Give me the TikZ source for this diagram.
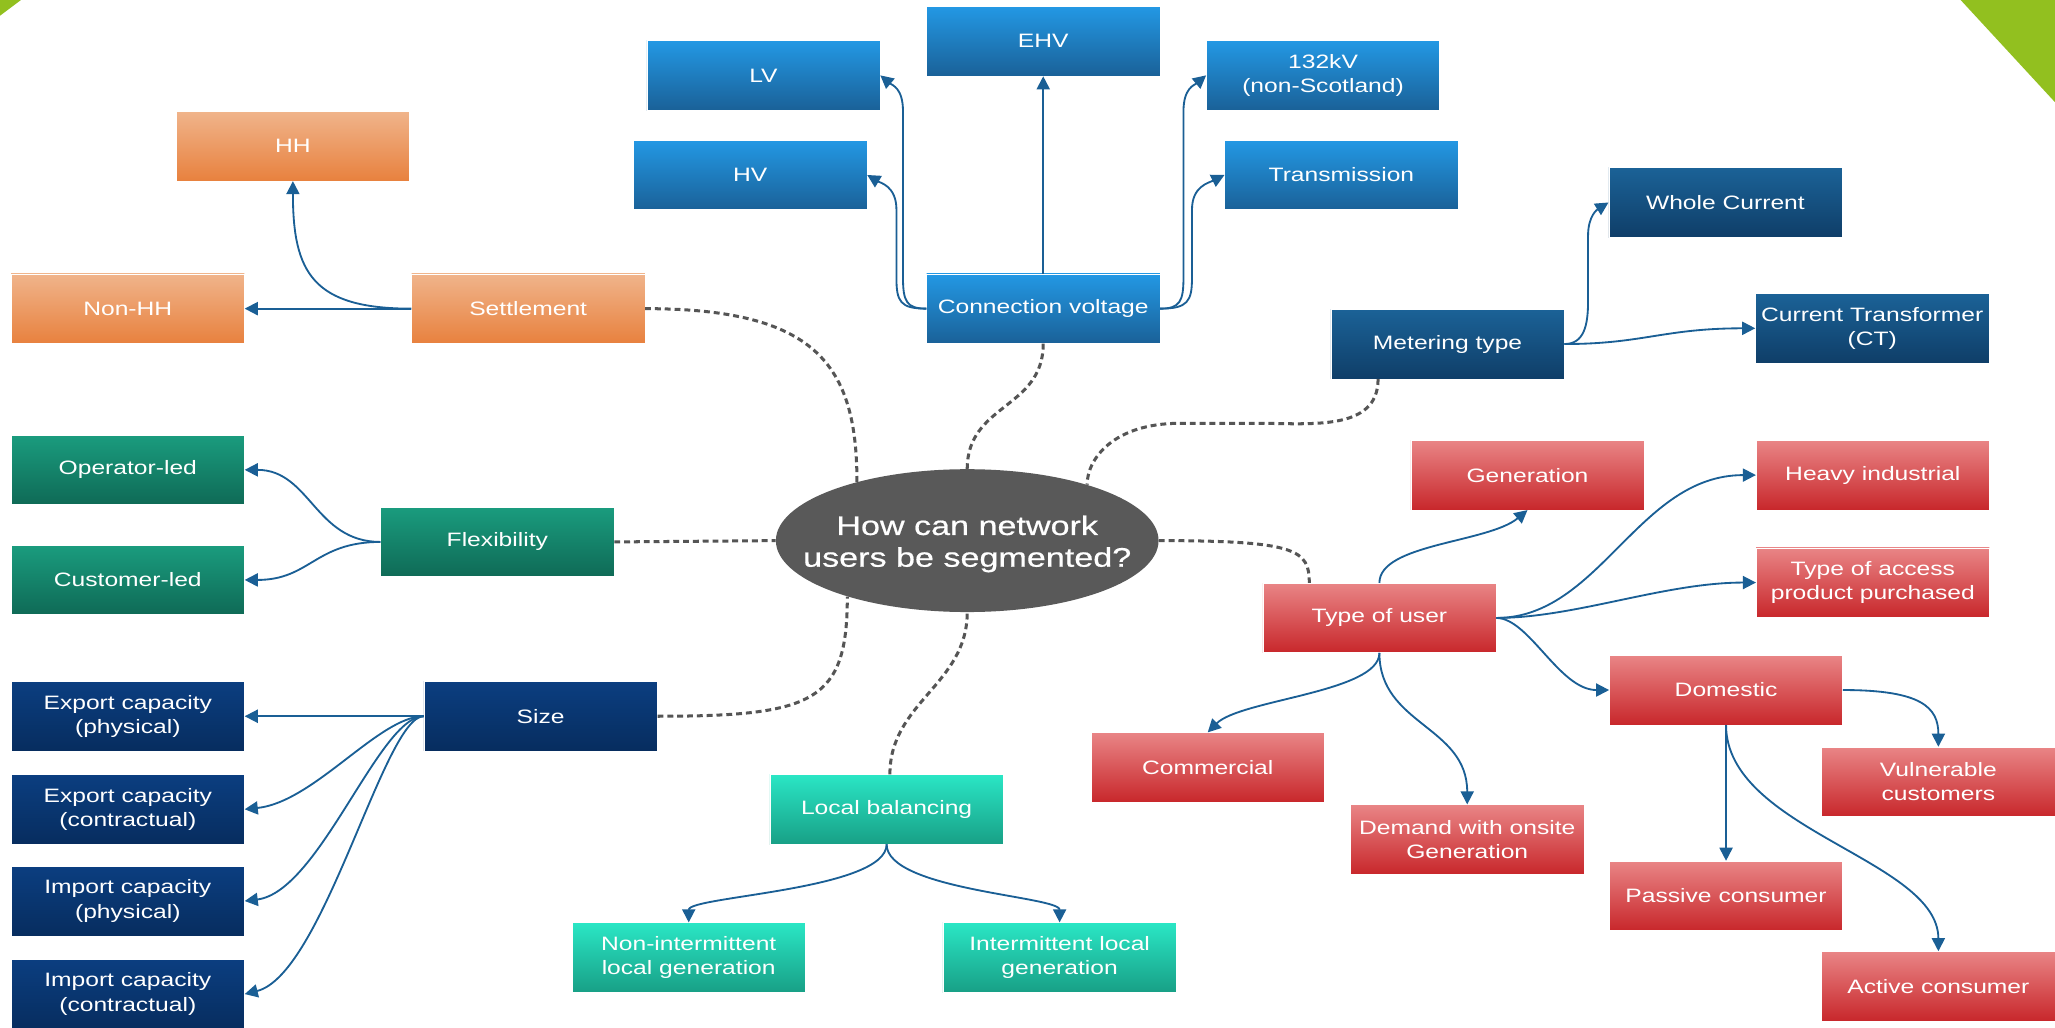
\documentclass[tikz,border=0pt]{standalone}
\usepackage{fontspec}
\setmainfont{Liberation Sans}[FakeStretch=1.27]
\usetikzlibrary{arrows.meta,shapes.geometric,calc}
\definecolor{orT}{HTML}{F0B48B}\definecolor{orB}{HTML}{E8813E}
\definecolor{lbT}{HTML}{2398E4}\definecolor{lbB}{HTML}{1A6198}
\definecolor{dbT}{HTML}{1B6297}\definecolor{dbB}{HTML}{0F3E68}
\definecolor{gnT}{HTML}{1A9C7E}\definecolor{gnB}{HTML}{0F6A56}
\definecolor{nvT}{HTML}{0B3E80}\definecolor{nvB}{HTML}{072D5F}
\definecolor{tqT}{HTML}{2AE6C5}\definecolor{tqB}{HTML}{18A086}
\definecolor{rdT}{HTML}{E98586}\definecolor{rdB}{HTML}{C8272B}
\definecolor{hubc}{HTML}{595959}
\definecolor{arrc}{HTML}{1A5F95}
\definecolor{dashc}{HTML}{555555}
\definecolor{leaf}{HTML}{92C01F}
\tikzset{
  box/.style={rectangle, minimum width=178pt, minimum height=53pt, inner sep=0pt,
    text=white, align=center, font=\fontsize{14.8}{18.5}\selectfont, draw=white, line width=0.4pt},
  orbox/.style={box, top color=orT, bottom color=orB},
  lbbox/.style={box, top color=lbT, bottom color=lbB},
  dbbox/.style={box, top color=dbT, bottom color=dbB},
  gnbox/.style={box, top color=gnT, bottom color=gnB},
  nvbox/.style={box, top color=nvT, bottom color=nvB},
  tqbox/.style={box, top color=tqT, bottom color=tqB},
  rdbox/.style={box, top color=rdT, bottom color=rdB},
  link/.style={draw=arrc, line width=1.4pt, -{Triangle[length=10pt,width=10pt]}},
  dlink/.style={draw=dashc, line width=2.3pt, dash pattern=on 4.5pt off 3pt},
  hubtext/.style={text=white, align=center, inner sep=0pt, yshift=-2.5pt,
    font=\fontsize{20.5}{24.2}\selectfont\addfontfeatures{FakeBold=0.6}},
}
\begin{document}
\begin{tikzpicture}[x=1pt,y=-1pt]
\useasboundingbox (0,0) rectangle (1568,784);
\fill[white] (0,0) rectangle (1568,784);
% corner triangles
\fill[leaf] (0,0) -- (16,0) -- (0,12) -- cycle;
\fill[leaf] (1496,0) -- (1568,0) -- (1568,78) -- cycle;

% hub
\node[ellipse, fill=hubc, minimum width=292pt, minimum height=109pt, inner sep=0pt,
  label={[hubtext]center:How can network\\users be segmented?}] (hub) at (738,412.5) {};

% settlement
\node[orbox] (hh) at (223.5,111.5) {HH};
\node[orbox] (nonhh) at (97.5,235.5) {Non-HH};
\node[orbox] (settle) at (403,235.5) {Settlement};
% connection voltage
\node[lbbox] (lv) at (582.5,57.5) {LV};
\node[lbbox] (hv) at (572.5,133.5) {HV};
\node[lbbox] (ehv) at (796,31.5) {EHV};
\node[lbbox] (kv) at (1009.5,57.5) {132kV\\(non-Scotland)};
\node[lbbox] (trans) at (1023.5,133.5) {Transmission};
\node[lbbox] (cv) at (796,235.5) {Connection voltage};
% metering
\node[dbbox] (meter) at (1104.5,262.5) {Metering type};
\node[dbbox] (whole) at (1316.5,154.5) {Whole Current};
\node[dbbox] (ct) at (1428.5,250.5) {Current Transformer\\(CT)};
% flexibility
\node[gnbox] (oper) at (97.5,358.5) {Operator-led};
\node[gnbox] (cust) at (97.5,442.5) {Customer-led};
\node[gnbox] (flex) at (379.5,413.5) {Flexibility};
% size
\node[nvbox] (size) at (412.5,546.5) {Size};
\node[nvbox] (expp) at (97.5,546.5) {Export capacity\\(physical)};
\node[nvbox] (expc) at (97.5,617.5) {Export capacity\\(contractual)};
\node[nvbox] (impp) at (97.5,687.5) {Import capacity\\(physical)};
\node[nvbox] (impc) at (97.5,758.5) {Import capacity\\(contractual)};
% local balancing
\node[tqbox] (lb) at (676.5,617.5) {Local balancing};
\node[tqbox] (nonint) at (525.5,730.5) {Non-intermittent\\local generation};
\node[tqbox] (inter) at (808.5,730.5) {Intermittent local\\generation};
% type of user
\node[rdbox] (gen) at (1165.5,362.5) {Generation};
\node[rdbox] (heavy) at (1429,362.5) {Heavy industrial};
\node[rdbox] (access) at (1429,444.5) {Type of access\\product purchased};
\node[rdbox] (tou) at (1052.5,471.5) {Type of user};
\node[rdbox] (dom) at (1317,526.5) {Domestic};
\node[rdbox] (comm) at (921.5,585.5) {Commercial};
\node[rdbox] (demand) at (1119.5,640.5) {Demand with onsite\\Generation};
\node[rdbox] (vuln) at (1479,596.5) {Vulnerable\\customers};
\node[rdbox] (passive) at (1317,683.5) {Passive consumer};
\node[rdbox] (active) at (1479,752.5) {Active consumer};

% dashed links to hub
\coordinate (ms) at ($(meter.south)+(-53,0)$);
\coordinate (ts) at ($(tou.north)+(-53.5,0)$);
\coordinate (ls) at ($(lb.north)+(2.5,0)$);
\path[dlink] (settle.east) .. controls +(130,0) and +(0,-90) .. (hub.152);
\path[dlink] (cv.south) .. controls +(0,50) and +(0,-50) .. (hub.north);
\path[dlink] (ms) .. controls +(0,40) and +(40,0) .. (960,323) -- (900,323)
  .. controls +(-50,0) and +(0,-20) .. (hub.25.5);
\path[dlink] (flex.east) -- (hub.west);
\path[dlink] (hub.east) .. controls +(106,0) and +(0,-25) .. (ts);
\path[dlink] (size.east) .. controls +(120,0) and +(0,80) .. (hub.205);
\path[dlink] (ls) .. controls +(0,-55) and +(0,55) .. (hub.south);

% settlement links
\path[link] (settle.west) -- (nonhh.east);
\path[link] (settle.west) .. controls +(-75,0) and +(0,70) .. (hh.south);
% connection voltage links
\path[link] (cv.north) -- (ehv.south);
\path[link] (cv.west) .. controls +(-15,0) and +(0,18) .. (689,212) -- (689,85)
  .. controls +(0,-18) and +(9,7.5) .. (lv.east);
\path[link] (cv.west) .. controls +(-20,0) and +(0,18) .. (684,212) -- (684,160)
  .. controls +(0,-18) and +(10,6) .. (hv.east);
\path[link] (cv.east) .. controls +(15,0) and +(0,18) .. (903,212) -- (903,85)
  .. controls +(0,-18) and +(-9,7.5) .. (kv.west);
\path[link] (cv.east) .. controls +(21,0) and +(0,18) .. (909.5,212) -- (909.5,160)
  .. controls +(0,-18) and +(-12,6) .. (trans.west);
% metering links
\path[link] (meter.east) .. controls +(15,0) and +(0,18) .. (1211.7,230) -- (1211.7,180)
  .. controls +(0,-16) and +(-8,5) .. (whole.west);
\path[link] (meter.east) .. controls +(60,0) and +(-70,0) .. (ct.west);
% flexibility links
\path[link] (flex.west) .. controls +(-50,0) and +(50,0) .. (oper.east);
\path[link] (flex.west) .. controls +(-50,0) and +(50,0) .. (cust.east);
% size links
\path[link] (size.west) -- (expp.east);
\path[link] (size.west) .. controls +(-34,0) and +(53,-5.5) .. (expc.east);
\path[link] (size.west) .. controls +(-34,0) and +(57,-7) .. (impp.east);
\path[link] (size.west) .. controls +(-30,0) and +(60,-15) .. (impc.east);
% local balancing links
\path[link] (lb.south) .. controls +(0,35) and +(0,-20) .. (nonint.north);
\path[link] (lb.south) .. controls +(0,35) and +(0,-20) .. (inter.north);
% type of user links
\path[link] (tou.north) .. controls +(0,-30) and +(-30,25) .. (gen.south);
\path[link] (tou.east) .. controls +(79,0) and +(-90,0) .. (heavy.west);
\path[link] (tou.east) .. controls +(60,0) and +(-70,0) .. (access.west);
\path[link] (tou.east) .. controls +(25,0) and +(-38,0) .. (dom.west);
\path[link] (tou.south) .. controls +(0,30) and +(25,-25) .. (comm.north);
\path[link] (tou.south) .. controls +(0,55) and +(0,-60) .. (demand.north);
% domestic links
\path[link] (dom.east) .. controls +(60,0) and +(0,-30) .. (vuln.north);
\path[link] (dom.south) -- (passive.north);
\path[link] (dom.south) .. controls +(0,80) and +(0,-70) .. (active.north);
\end{tikzpicture}
\end{document}
